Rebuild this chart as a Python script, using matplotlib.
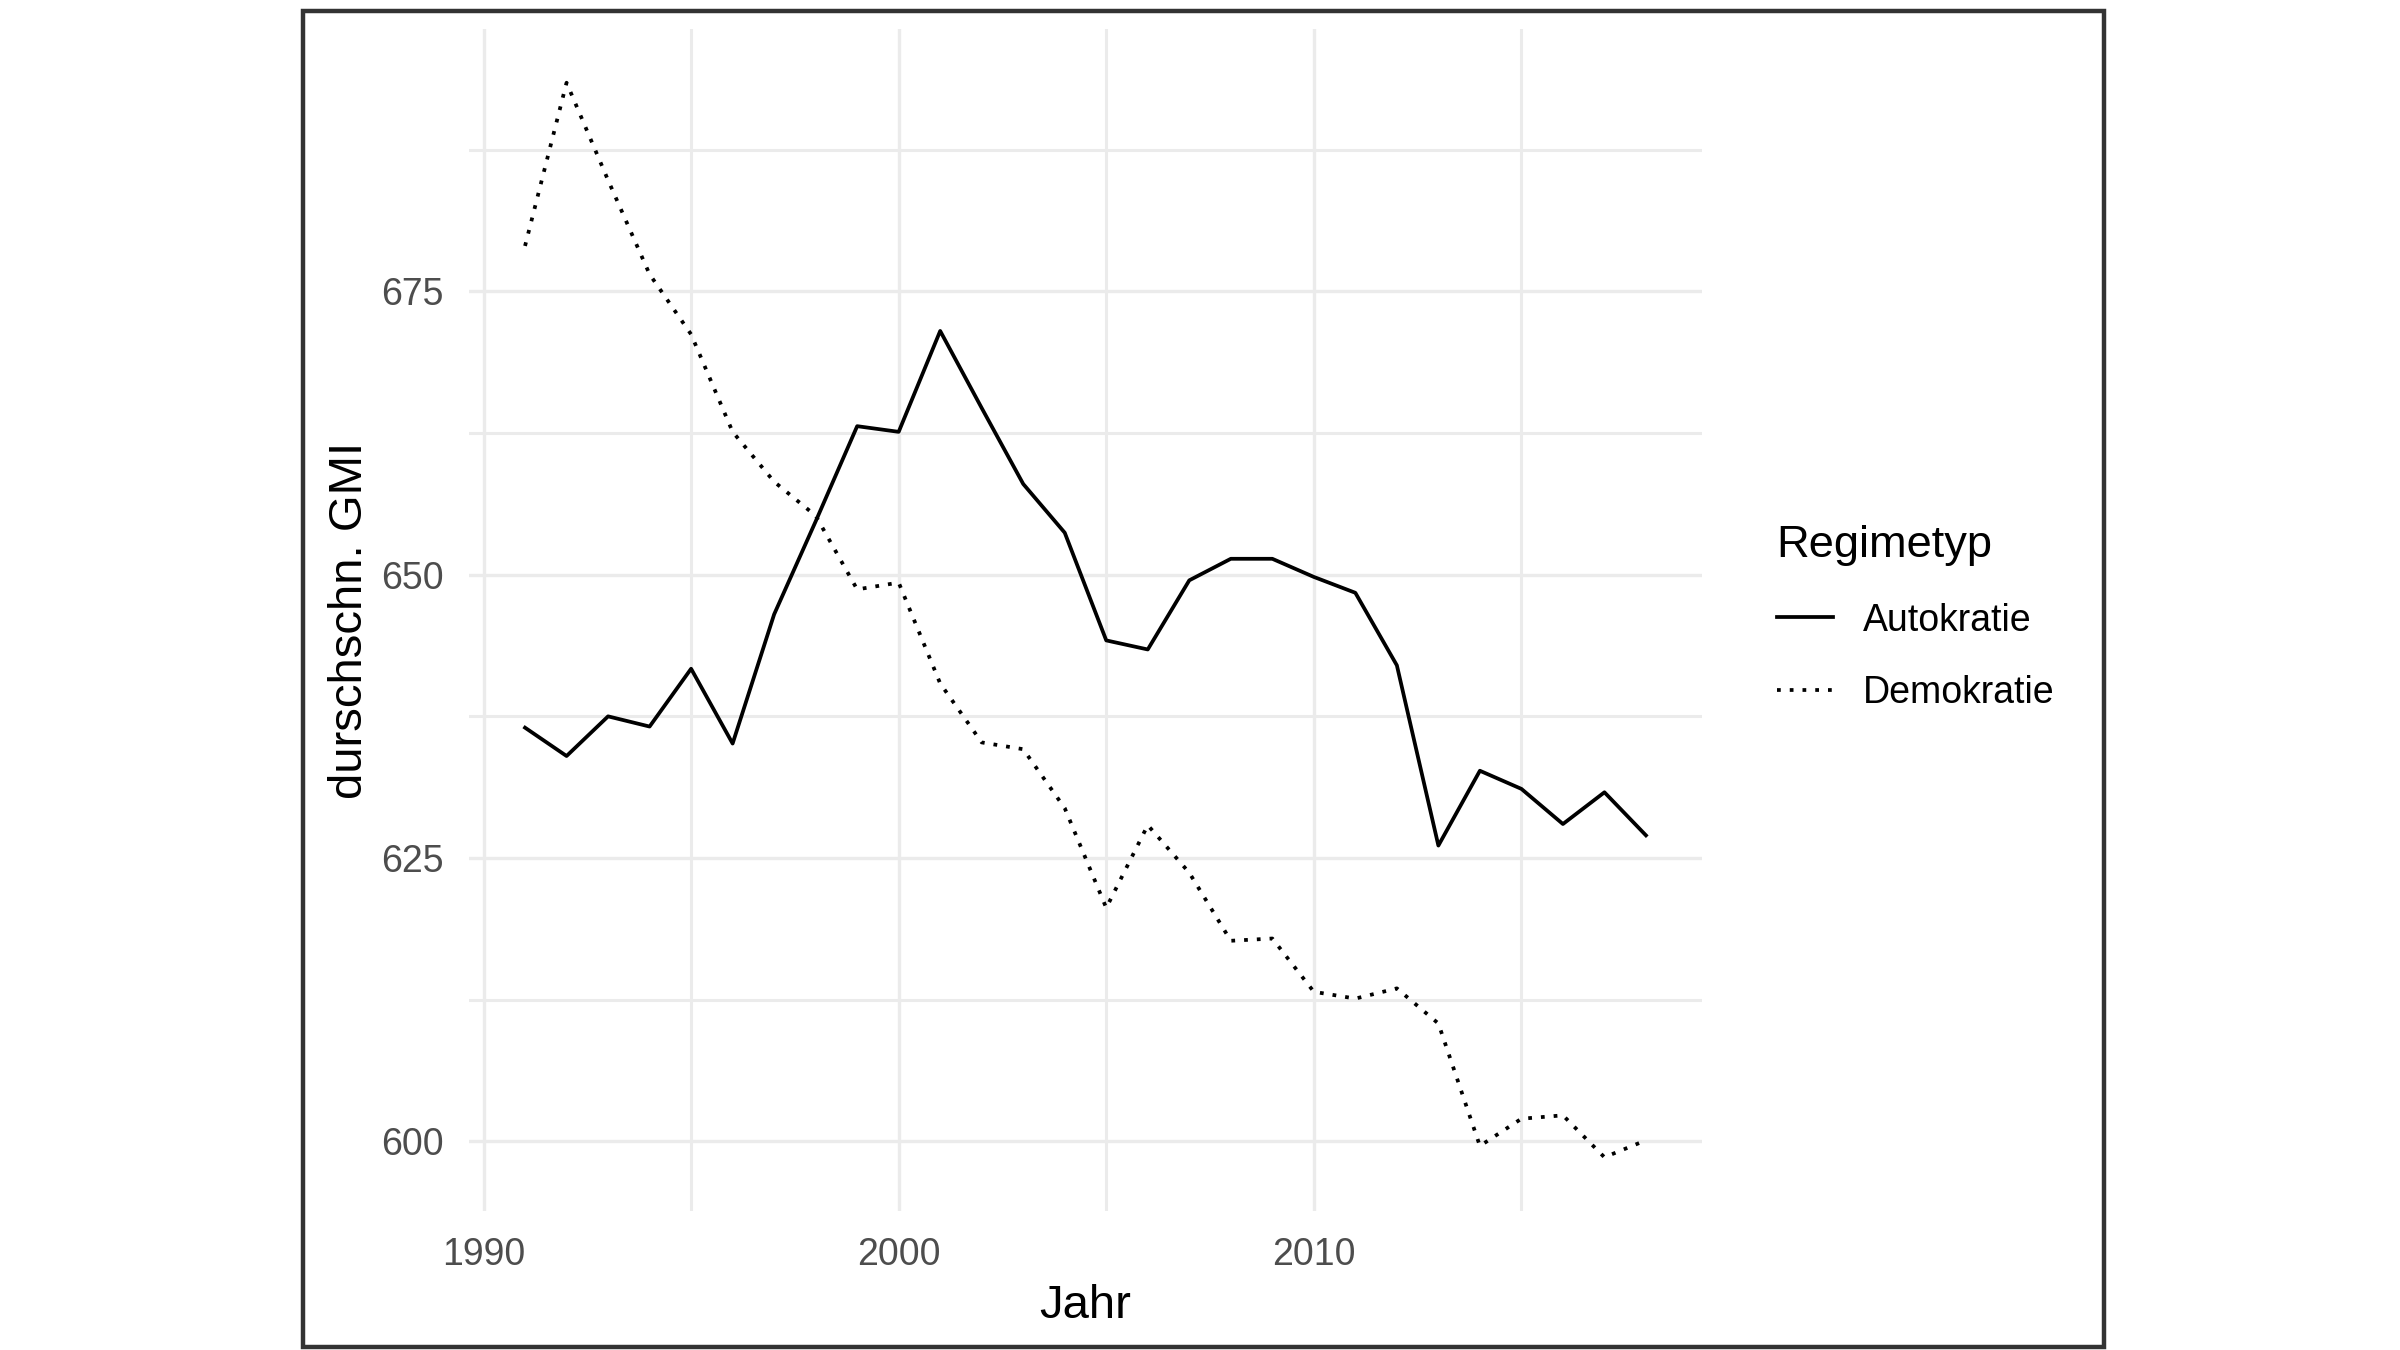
import numpy as np
import matplotlib
matplotlib.use('Agg')
import matplotlib.pyplot as plt
from matplotlib.patches import Rectangle
from matplotlib.ticker import MultipleLocator

plt.rcParams['font.family'] = ['Liberation Sans', 'DejaVu Sans']

# data
years = np.arange(1991, 2019)
autokratie = [636.5, 634.0, 637.5, 636.6, 641.7, 635.1, 646.5, 654.7, 663.1, 662.6,
              671.5, 664.7, 658.0, 653.7, 644.2, 643.4, 649.5, 651.4, 651.4, 649.8,
              648.4, 642.0, 626.1, 632.7, 631.1, 628.0, 630.8, 627.0]
demokratie = [679.0, 693.4, 684.8, 676.5, 671.2, 662.6, 658.2, 655.2, 648.7, 649.3,
              640.4, 635.2, 634.6, 629.4, 620.6, 627.9, 623.7, 617.7, 617.9, 613.2,
              612.6, 613.5, 610.4, 599.6, 602.0, 602.3, 598.6, 600.1]
labels = ['Autokratie', 'Demokratie']

W, H = 2400, 1350
fig = plt.figure(figsize=(12, 6.75), dpi=200)
fig.patch.set_facecolor('white')

# panel position in pixels of the reference
left, right, top, bottom = 469, 1702, 29, 1211
ax = fig.add_axes([left / W, 1 - bottom / H, (right - left) / W, (bottom - top) / H])

ax.plot(years, autokratie, color='black', lw=1.35, label=labels[0])
ax.plot(years, demokratie, color='black', lw=1.35, dashes=(1, 2.4), label=labels[1])

# ggplot-like 5% expansion
allv = np.concatenate([autokratie, demokratie])
xpad = 0.05 * (years.max() - years.min())
ypad = 0.05 * (allv.max() - allv.min())
ax.set_xlim(years.min() - xpad, years.max() + xpad)
ax.set_ylim(allv.min() - ypad, allv.max() + ypad)

ax.xaxis.set_major_locator(MultipleLocator(10))
ax.xaxis.set_minor_locator(MultipleLocator(5))
ax.yaxis.set_major_locator(MultipleLocator(25))
ax.yaxis.set_minor_locator(MultipleLocator(12.5))

ax.grid(which='major', color='#EBEBEB', lw=1.2)
ax.grid(which='minor', color='#EBEBEB', lw=1.1)
ax.set_axisbelow(True)
for s in ax.spines.values():
    s.set_visible(False)

ax.tick_params(which='both', length=0, labelsize=13.5, labelcolor='#4D4D4D')
ax.tick_params(axis='x', pad=9.5)
ax.tick_params(axis='y', pad=9)

ax.set_xlabel('Jahr', fontsize=17, labelpad=4)
ax.set_ylabel('durschschn. GMI', fontsize=17, labelpad=3.5)

leg = ax.legend(loc='center left', bbox_to_anchor=(1758 / W, 1 - 618 / H),
                bbox_transform=fig.transFigure, frameon=False, title='Regimetyp',
                title_fontsize=16.3, fontsize=13.5, handlelength=1.5,
                handletextpad=0.8, labelspacing=0.97, borderpad=0,
                alignment='left')

# outer frame of the screenshot
frame = Rectangle((303 / W, 3 / H), (2104 - 303) / W, (1347 - 11) / H,
                  transform=fig.transFigure, fill=False, lw=1.6,
                  edgecolor='#333333')
fig.add_artist(frame)

fig.savefig('out.png', dpi=200)
